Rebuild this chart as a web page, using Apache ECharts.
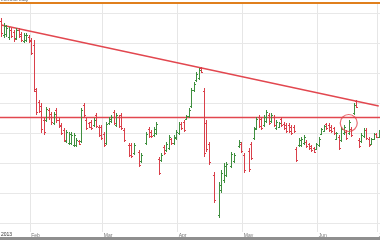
<!DOCTYPE html>
<html><head><meta charset="utf-8">
<script src="https://cdn.jsdelivr.net/npm/echarts@6/dist/echarts.min.js"></script>
<style>html,body{margin:0;padding:0;background:#fff;overflow:hidden;width:380px;height:240px}#c{width:380px;height:240px;overflow:hidden}</style>
</head><body><div id="c"></div>
<script>
// OHLC values (null = no bar in that slot)
var barOpen = [202,188,189,186,193,191,185,193,189,182,
183,186,183,178,132,121,117,103,103,113,
109,100,113,103,98,93,82,80,80,78,
78,82,82,118,103,100,101,98,108,96,
96,89,80,100,102,111,98,106,108,93,
null,78,78,70,null,71,62,null,80,
94,91,88,90,64,63,76,73,75,84,
80,85,90,99,101,104,107,117,133,143,
145,155,132,100,79,null,48,null,8,33,43,48,null,57,62,null,77,79,68,null,72,
79,85,95,106,104,98,102,108,102,106,
95,96,104,99,98,98,96,96,74,78,
78,80,81,79,77,75,74,78,89,92,
99,98,96,95,84,86,83,90,91,90,
94,110,122,83,82,87,93,84,79,84,89,86];
var barHigh = [205,200,198,196,195,193,195,195,191,190,
190,188,185,183,135,123,120,105,116,115,
111,111,115,105,100,95,93,91,91,90,
85,83,115,120,105,101,103,105,110,98,
98,91,101,106,108,113,110,108,110,95,
null,80,80,80,null,73,70,null,91,
96,93,96,101,66,70,78,81,88,85,
88,93,101,101,103,108,115,135,141,151,
155,156,135,103,81,null,51,null,41,53,60,61,null,71,70,null,83,81,70,null,75,
81,96,106,108,106,108,113,110,110,108,
103,101,106,101,100,100,98,98,76,85,
86,88,83,80,78,76,80,86,95,98,
100,100,98,96,91,88,96,98,93,103,
96,120,123,85,90,95,95,86,85,90,90,93];
var barLow = [186,185,186,183,185,181,183,185,181,180,
181,180,168,131,108,110,90,88,101,103,
98,98,100,95,88,81,80,78,78,76,
76,78,80,106,93,95,93,96,95,86,
83,76,78,98,100,98,96,95,93,81,
null,66,65,68,null,56,60,null,78,
85,85,86,88,48,61,68,71,73,78,
78,83,88,93,91,103,105,115,131,141,
143,150,66,71,58,null,20,null,5,30,40,46,null,55,60,null,75,70,50,null,51,
63,83,93,95,93,96,100,98,100,96,
93,95,96,93,90,90,88,90,61,76,
76,78,75,73,71,70,73,76,88,91,
93,91,90,88,83,73,81,88,83,88,
86,108,115,75,80,85,83,76,78,83,85,85];
var barClose = [190,197,195,193,187,184,193,187,183,188,
188,182,170,134,111,112,94,91,114,106,
101,109,103,97,90,83,91,89,88,88,
83,79,113,108,95,96,95,103,97,88,
85,78,99,104,106,100,108,97,95,83,
null,68,67,78,null,58,68,null,89,
87,87,94,99,50,68,70,79,86,80,
86,91,99,95,93,107,113,133,139,149,
153,151,70,74,61,null,23,null,38,50,57,59,null,69,68,null,81,72,53,null,54,
65,94,104,97,95,106,111,100,108,98,
101,100,98,95,92,92,90,92,63,83,
84,86,77,75,73,71,79,84,94,97,
95,93,92,90,90,75,94,96,85,101,
88,118,116,77,88,93,85,78,84,89,86,92];

var categories = barHigh.map(function(_, i){ return 'D' + (i + 1); });
var monthTickIndex = [12, 41, 71, 97, 127, 151];
var monthTickLabel = ['Feb', 'Mar', 'Apr', 'May', 'Jun', 'Jul'];
var priceGrid = [0, 30, 60, 90, 120, 150, 180, 210];
var trendStart = {index: 0, price: 198};
var trendEnd = {index: 151, price: 117};
var supportLevel = 106;
var circleMark = {index: 139, price: 100};
var yearLabel = '2013';

var GREEN = '#3f8f3f', RED = '#d9404a', LINE_RED = '#e2474f';

var ohlc = [];
for (var i = 0; i < categories.length; i++) {
  if (barHigh[i] == null) continue;
  ohlc.push([i, barOpen[i], barHigh[i], barLow[i], barClose[i]]);
}

var chart = echarts.init(document.getElementById('c'), null, {renderer: 'canvas', width: 380, height: 240});
chart.setOption({
  animation: false,
  backgroundColor: '#fff',
  grid: {left: 0, right: 0, top: 4, bottom: 8, containLabel: false, outerBoundsMode: 'none'},
  xAxis: {
    type: 'category', data: categories, boundaryGap: true,
    axisLine: {show: true, lineStyle: {color: '#c8c8c8', width: 1}},
    axisTick: {show: false},
    axisLabel: {
      show: true, fontSize: 5, color: '#777', margin: 1, align: 'left',
      fontFamily: 'Liberation Sans', hideOverlap: false,
      interval: function(idx){ return monthTickIndex.indexOf(idx) >= 0; },
      formatter: function(v, idx){ var k = monthTickIndex.indexOf(idx); return k >= 0 ? monthTickLabel[k] : ''; }
    },
    splitLine: {show: true, interval: function(idx){ return monthTickIndex.indexOf(idx) >= 0; },
      lineStyle: {color: '#e6e6e6', width: 1}}
  },
  yAxis: {
    type: 'value', min: -9, max: 219, show: true,
    axisLine: {show: false}, axisTick: {show: false}, axisLabel: {show: false}, splitLine: {show: false}
  },
  series: [
    {
      type: 'line', data: [], silent: true, z: 1,
      markLine: {
        silent: true, symbol: 'none', label: {show: false}, animation: false,
        lineStyle: {color: '#e8e8e8', width: 1, type: 'solid'},
        data: priceGrid.map(function(v){ return {yAxis: v}; })
      }
    },
    {
      type: 'custom', z: 5,
      data: ohlc,
      encode: {x: 0, y: [1, 2, 3, 4]},
      renderItem: function(params, api){
        var idx = api.value(0), o = api.value(1), h = api.value(2), l = api.value(3), c = api.value(4);
        var pH = api.coord([idx, h]), pL = api.coord([idx, l]), pO = api.coord([idx, o]), pC = api.coord([idx, c]);
        var x = Math.round(pH[0]) + 0.5;
        var col = c >= o ? GREEN : RED;
        var st = {stroke: col, lineWidth: 1};
        return {type: 'group', children: [
          {type: 'line', shape: {x1: x, y1: pH[1], x2: x, y2: pL[1]}, style: st},
          {type: 'line', shape: {x1: x - 1.5, y1: Math.round(pO[1]) + 0.5, x2: x, y2: Math.round(pO[1]) + 0.5}, style: st},
          {type: 'line', shape: {x1: x, y1: Math.round(pC[1]) + 0.5, x2: x + 1.5, y2: Math.round(pC[1]) + 0.5}, style: st}
        ]};
      }
    },
    {
      type: 'line', data: [], silent: true, z: 6,
      markLine: {
        silent: true, symbol: 'none', label: {show: false}, animation: false,
        lineStyle: {color: LINE_RED, width: 1.3, type: 'solid'},
        data: [
          [{coord: [trendStart.index, trendStart.price]}, {coord: [trendEnd.index, trendEnd.price]}],
          {yAxis: supportLevel}
        ]
      }
    },
    {
      type: 'scatter', z: 7, silent: true,
      data: [[circleMark.index, circleMark.price]],
      symbol: 'circle', symbolSize: 17,
      itemStyle: {color: 'rgba(0,0,0,0)', borderColor: LINE_RED, borderWidth: 1.2}
    }
  ],
  graphic: [
    {type: 'rect', left: 0, top: 2, shape: {width: 380, height: 2}, style: {fill: '#e07f1c'}, z: 10},
    {type: 'rect', left: 0, top: 237, shape: {width: 380, height: 3}, style: {fill: '#8f8f8f'}, z: 10},
    {type: 'text', left: 1, top: 232, style: {text: yearLabel, fontSize: 5, fill: '#333', fontFamily: 'Liberation Sans'}, z: 10},
    {type: 'text', left: 1, top: -2, style: {text: 'EURUSD Daily', fontSize: 4, fill: '#444', fontFamily: 'Liberation Sans'}, z: 10}
  ]
});
</script></body></html>
